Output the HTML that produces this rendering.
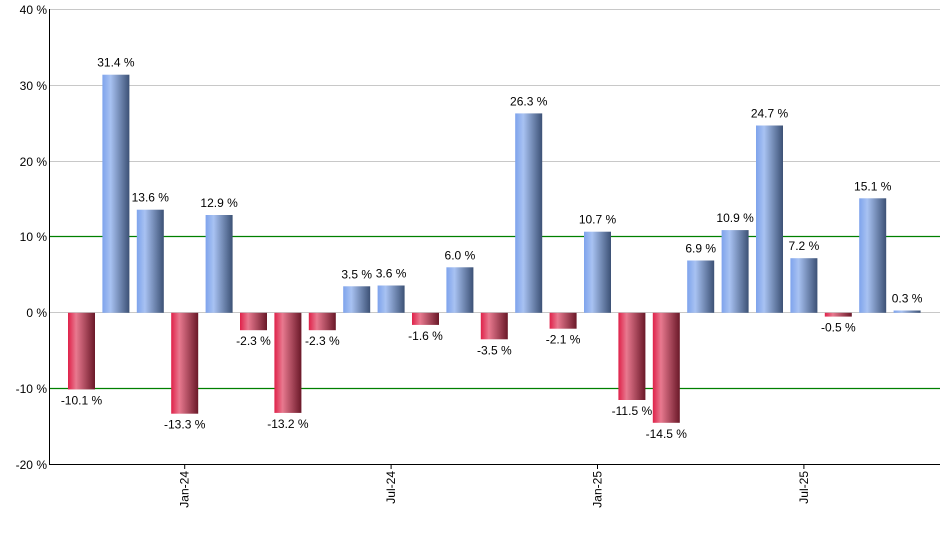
<!DOCTYPE html>
<html><head><meta charset="utf-8"><style>body{margin:0;background:#fff}svg{display:block}text{font-family:"Liberation Sans",Arial,sans-serif;font-size:12px;fill:#000}</style></head>
<body>
<svg width="940" height="550" xmlns="http://www.w3.org/2000/svg">
<defs>
<linearGradient id="b" x1="0" x2="1" y1="0" y2="0"><stop offset="0" stop-color="#7ea3ec"/><stop offset="0.3" stop-color="#a8c2f2"/><stop offset="1" stop-color="#3c5175"/></linearGradient>
<linearGradient id="r" x1="0" x2="1" y1="0" y2="0"><stop offset="0" stop-color="#df2149"/><stop offset="0.3" stop-color="#e8798f"/><stop offset="1" stop-color="#6a1828"/></linearGradient>
</defs>
<g stroke="#c8c8c8" stroke-width="1">
<line x1="50" x2="940" y1="9.5" y2="9.5"/><line x1="50" x2="940" y1="85.5" y2="85.5"/><line x1="50" x2="940" y1="161.5" y2="161.5"/><line x1="50" x2="940" y1="312.5" y2="312.5"/>
</g>
<g stroke="#008000" stroke-width="1.3"><line x1="50" x2="940" y1="236.5" y2="236.5"/><line x1="50" x2="940" y1="388.5" y2="388.5"/></g>
<g text-anchor="end">
<text x="47" y="14">40 %</text><text x="47" y="90">30 %</text><text x="47" y="166">20 %</text><text x="47" y="241">10 %</text><text x="47" y="317">0 %</text><text x="47" y="393">-10 %</text><text x="47" y="469">-20 %</text>
</g>
<g>
<rect x="68" y="312.8" width="27" height="76.6" fill="url(#r)"/>
<rect x="102.4" y="74.7" width="27" height="238.1" fill="url(#b)"/>
<rect x="136.8" y="209.7" width="27" height="103.1" fill="url(#b)"/>
<rect x="171.2" y="312.8" width="27" height="100.9" fill="url(#r)"/>
<rect x="205.6" y="215.0" width="27" height="97.8" fill="url(#b)"/>
<rect x="240.0" y="312.8" width="27" height="17.4" fill="url(#r)"/>
<rect x="274.4" y="312.8" width="27" height="100.1" fill="url(#r)"/>
<rect x="308.8" y="312.8" width="27" height="17.4" fill="url(#r)"/>
<rect x="343.2" y="286.3" width="27" height="26.5" fill="url(#b)"/>
<rect x="377.6" y="285.5" width="27" height="27.3" fill="url(#b)"/>
<rect x="412.0" y="312.8" width="27" height="12.1" fill="url(#r)"/>
<rect x="446.4" y="267.3" width="27" height="45.5" fill="url(#b)"/>
<rect x="480.8" y="312.8" width="27" height="26.5" fill="url(#r)"/>
<rect x="515.2" y="113.4" width="27" height="199.4" fill="url(#b)"/>
<rect x="549.6" y="312.8" width="27" height="15.9" fill="url(#r)"/>
<rect x="584.0" y="231.7" width="27" height="81.1" fill="url(#b)"/>
<rect x="618.4" y="312.8" width="27" height="87.2" fill="url(#r)"/>
<rect x="652.8" y="312.8" width="27" height="110.0" fill="url(#r)"/>
<rect x="687.2" y="260.5" width="27" height="52.3" fill="url(#b)"/>
<rect x="721.6" y="230.1" width="27" height="82.7" fill="url(#b)"/>
<rect x="756.0" y="125.5" width="27" height="187.3" fill="url(#b)"/>
<rect x="790.4" y="258.2" width="27" height="54.6" fill="url(#b)"/>
<rect x="824.8" y="312.8" width="27" height="3.8" fill="url(#r)"/>
<rect x="859.2" y="198.3" width="27" height="114.5" fill="url(#b)"/>
<rect x="893.6" y="310.5" width="27" height="2.3" fill="url(#b)"/>
</g>
<g text-anchor="middle">
<text x="81.5" y="404.4">-10.1 %</text>
<text x="115.9" y="66.7">31.4 %</text>
<text x="150.3" y="201.7">13.6 %</text>
<text x="184.7" y="428.7">-13.3 %</text>
<text x="219.1" y="207.0">12.9 %</text>
<text x="253.5" y="345.2">-2.3 %</text>
<text x="287.9" y="427.9">-13.2 %</text>
<text x="322.3" y="345.2">-2.3 %</text>
<text x="356.7" y="278.3">3.5 %</text>
<text x="391.1" y="277.5">3.6 %</text>
<text x="425.5" y="339.9">-1.6 %</text>
<text x="459.9" y="259.3">6.0 %</text>
<text x="494.3" y="354.3">-3.5 %</text>
<text x="528.7" y="105.4">26.3 %</text>
<text x="563.1" y="343.7">-2.1 %</text>
<text x="597.5" y="223.7">10.7 %</text>
<text x="631.9" y="415.0">-11.5 %</text>
<text x="666.3" y="437.8">-14.5 %</text>
<text x="700.7" y="252.5">6.9 %</text>
<text x="735.1" y="222.1">10.9 %</text>
<text x="769.5" y="117.5">24.7 %</text>
<text x="803.9" y="250.2">7.2 %</text>
<text x="838.3" y="331.6">-0.5 %</text>
<text x="872.7" y="190.3">15.1 %</text>
<text x="907.1" y="302.5">0.3 %</text>
</g>
<line x1="49.5" x2="49.5" y1="9" y2="465" stroke="#000"/>
<line x1="49" x2="940" y1="464.5" y2="464.5" stroke="#000"/>
<g stroke="#000">
<line x1="184.7" x2="184.7" y1="464" y2="469"/><line x1="391.1" x2="391.1" y1="464" y2="469"/><line x1="597.5" x2="597.5" y1="464" y2="469"/><line x1="803.9" x2="803.9" y1="464" y2="469"/>
</g>
<g text-anchor="end">
<text transform="translate(188.7,471) rotate(-90)">Jan-24</text>
<text transform="translate(395.1,471) rotate(-90)">Jul-24</text>
<text transform="translate(601.5,471) rotate(-90)">Jan-25</text>
<text transform="translate(807.9,471) rotate(-90)">Jul-25</text>
</g>
</svg>
</body></html>
